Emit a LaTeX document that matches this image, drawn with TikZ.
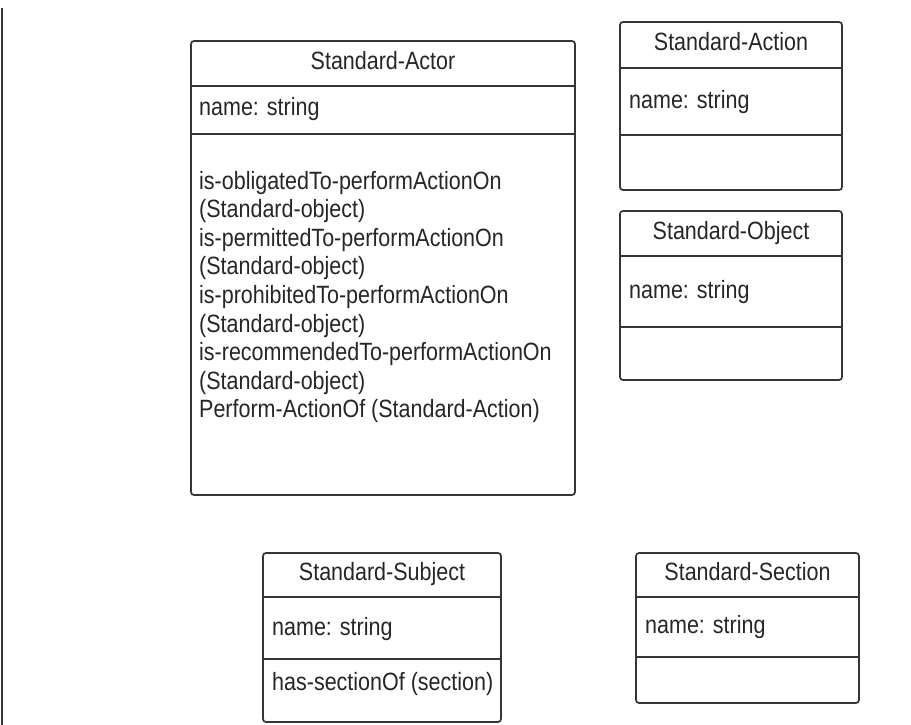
\documentclass[tikz,border=0pt]{standalone}
\usepackage{fontspec}
\setmainfont[FakeStretch=0.86]{Liberation Sans}
\definecolor{ln}{HTML}{353535}
\definecolor{tx}{HTML}{262626}
\tikzset{
  umlbox/.style={draw=ln, line width=1.7pt, rounded corners=3pt},
  divider/.style={draw=ln, line width=1.7pt},
  ttl/.style={inner sep=0pt, anchor=base, text=tx, font=\fontsize{25}{28.5}\selectfont},
  attr/.style={inner sep=0pt, anchor=base west, text=tx, font=\fontsize{25}{28.5}\selectfont}
}
\begin{document}
\begin{tikzpicture}[x=1pt,y=-1pt]
\useasboundingbox (0,0) rectangle (911,725);
% left border line
\coordinate (lt) at (2,8);
\coordinate (lb) at (2,725);
\draw[divider] (lt) -- (lb);

% Standard-Actor
\draw[umlbox] (191,41) rectangle (575,495);
\draw[divider] (191,86) -- (575,86);
\draw[divider] (191,134) -- (575,134);
\node[ttl] (actorT) at (383,70) {Standard-Actor};
\node[attr] (actorN) at (199,115) {name: string};
\foreach \t [count=\i from 0] in {is-obligatedTo-performActionOn,(Standard-object),is-permittedTo-performActionOn,(Standard-object),is-prohibitedTo-performActionOn,(Standard-object),is-recommendedTo-performActionOn,(Standard-object),Perform-ActionOf (Standard-Action)}
  \node[attr] (actorOp\i) at (199,{189+28.6*\i}) {\t};

% Standard-Action
\draw[umlbox] (620,22) rectangle (842,190);
\draw[divider] (620,68) -- (842,68);
\draw[divider] (620,135) -- (842,135);
\node[ttl] (actionT) at (731,51) {Standard-Action};
\node[attr] (actionN) at (629,109) {name: string};

% Standard-Object
\draw[umlbox] (620,211) rectangle (842,380);
\draw[divider] (620,256) -- (842,256);
\draw[divider] (620,327) -- (842,327);
\node[ttl] (objectT) at (731,239) {Standard-Object};
\node[attr] (objectN) at (629,298) {name: string};

% Standard-Subject
\draw[umlbox] (263,553) rectangle (501,722);
\draw[divider] (263,597) -- (501,597);
\draw[divider] (263,659) -- (501,659);
\node[ttl] (subjectT) at (382,580) {Standard-Subject};
\node[attr] (subjectN) at (272,635) {name: string};
\node[attr] (subjectOp) at (272,690) {has-sectionOf (section)};

% Standard-Section
\draw[umlbox] (636,553) rectangle (859,703);
\draw[divider] (636,597) -- (859,597);
\draw[divider] (636,657) -- (859,657);
\node[ttl] (sectionT) at (747.5,580) {Standard-Section};
\node[attr] (sectionN) at (645,633) {name: string};
\end{tikzpicture}
\end{document}
